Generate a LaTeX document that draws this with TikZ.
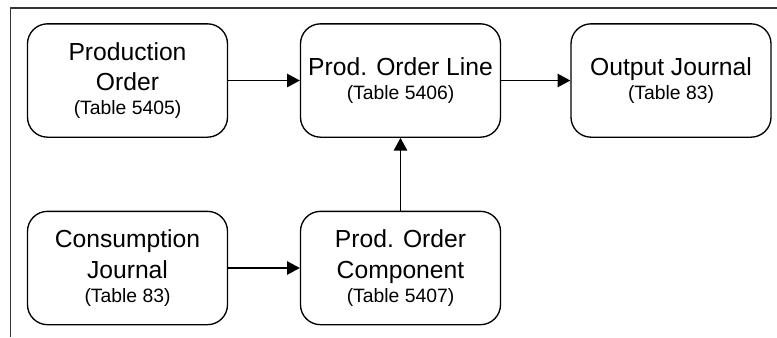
\documentclass[tikz,border=0pt]{standalone}
\usepackage{fontspec}
\setmainfont{Liberation Sans}
\usetikzlibrary{arrows.meta}
\newcommand{\tbl}[1]{{\fontsize{14.5}{17}\selectfont (Table #1)}}
\begin{document}
\begin{tikzpicture}[x=0.75pt,y=-0.75pt,>={Triangle[length=9.5pt,width=10pt]},line join=round,
		box/.style={draw,line width=1pt,rounded corners=15pt,minimum width=150pt,minimum height=85pt,align=center,font=\fontsize{18.5}{23}\selectfont}]
			\useasboundingbox (0,0) rectangle (777,337);
			\draw[line width=1.2pt,black!80] (777,8) -- (10.5,8) -- (10.5,337);
			
			\foreach \n/\p/\t in {po/{127.5,80.5}/{Production\\Order\\[-5pt]\tbl{5405}},
				pol/{400.5,80.5}/{Prod. Order Line\\[-5pt]\tbl{5406}},
				oj/{671,80.5}/{Output Journal\\[-5pt]\tbl{83}},
				cj/{127.5,268}/{Consumption\\Journal\\[-5pt]\tbl{83}},
				poc/{400.5,268}/{Prod. Order\\Component\\[-5pt]\tbl{5407}}}
				\node[box] (\n) at (\p) {\t};
			\foreach \a/\b in {po/pol,pol/oj,cj/poc,poc/pol}
				\draw[->,line width=1pt] (\a) -- (\b);
		\end{tikzpicture}
\end{document}
